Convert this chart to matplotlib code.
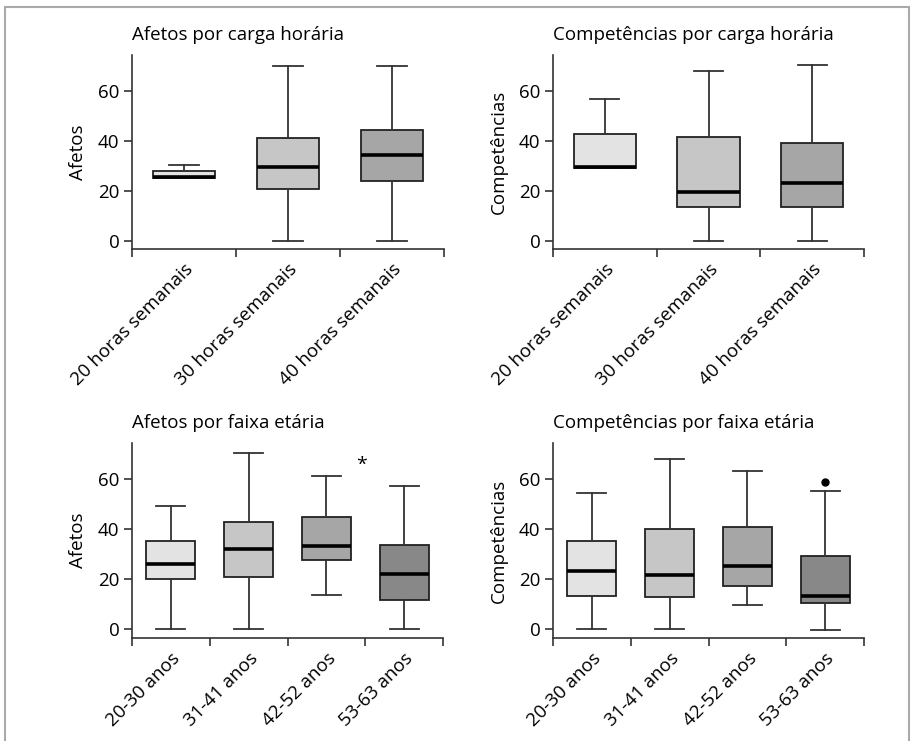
import matplotlib
matplotlib.use("Agg")
import matplotlib.pyplot as plt
from matplotlib.patches import Rectangle

plt.rcParams['font.family'] = ['Open Sans', 'DejaVu Sans']
plt.rcParams['font.size'] = 13.5

carga_labels = ["20 horas semanais", "30 horas semanais", "40 horas semanais"]
idade_labels = ["20-30 anos", "31-41 anos", "42-52 anos", "53-63 anos"]

# (whislo, q1, med, q3, whishi)
afetos_carga = [(25.0, 24.9, 25.6, 27.7, 30.4),
                (0, 20.5, 29.3, 41.1, 70.1),
                (0, 24.0, 34.4, 44.3, 70.1)]
comp_carga = [(28.9, 28.9, 29.6, 42.8, 56.8),
              (0, 13.5, 19.6, 41.4, 68.0),
              (0, 13.5, 23.0, 39.0, 70.4)]
afetos_idade = [(0, 20.3, 26.2, 35.5, 49.1),
                (0, 21.1, 32.2, 43.0, 70.3),
                (13.8, 27.8, 33.3, 44.8, 61.1),
                (0, 11.6, 22.2, 33.8, 57.3)]
comp_idade = [(0, 13.2, 23.3, 35.2, 54.3),
              (0, 13.0, 21.8, 40.0, 68.2),
              (9.9, 17.5, 25.3, 40.7, 63.1),
              (-0.3, 10.7, 13.2, 29.5, 55.2)]
comp_idade_outliers = [[], [], [], [59.0]]

colors3 = ["#e3e3e3", "#c6c6c6", "#a6a6a6"]
colors4 = ["#e3e3e3", "#c6c6c6", "#a6a6a6", "#888888"]


def draw(ax, data, labels, colors, title, ylabel, capw, boxw, fliers=None):
    stats = []
    for i, (lo, q1, med, q3, hi) in enumerate(data):
        stats.append(dict(whislo=lo, q1=q1, med=med, q3=q3, whishi=hi,
                          fliers=fliers[i] if fliers else []))
    n = len(data)
    pos = list(range(n))
    bp = ax.bxp(stats, positions=pos, widths=boxw, patch_artist=True,
                showfliers=True, capwidths=capw,
                boxprops=dict(edgecolor="#222222", linewidth=1.3),
                whiskerprops=dict(color="#333333", linewidth=1.3),
                capprops=dict(color="#333333", linewidth=1.3),
                medianprops=dict(color="black", linewidth=2.6),
                flierprops=dict(marker="o", markersize=5, markerfacecolor="black",
                                markeredgecolor="black"))
    for patch, c in zip(bp["boxes"], colors):
        patch.set_facecolor(c)
    ax.set_xlim(-0.5, n - 0.5)
    ax.set_ylim(-3.4, 74.4)
    ax.set_yticks([0, 20, 40, 60])
    ax.set_xticks([i - 0.5 for i in range(n + 1)])
    ax.set_xticklabels([])
    ax.set_xticks(pos, minor=True)
    ax.set_xticklabels(labels, minor=True, rotation=45, ha="right",
                       rotation_mode="anchor")
    ax.tick_params(axis="x", which="minor", length=0, pad=8)
    ax.tick_params(axis="x", which="major", length=6, width=1.2, color="#333333")
    ax.tick_params(axis="y", length=6, width=1.2, color="#333333", pad=3)
    for s in ["top", "right"]:
        ax.spines[s].set_visible(False)
    for s in ["left", "bottom"]:
        ax.spines[s].set_linewidth(1.2)
        ax.spines[s].set_color("#333333")
    ax.set_title(title, loc="left", fontsize=13.5, pad=11)
    ax.set_ylabel(ylabel, labelpad=8)


fig = plt.figure(figsize=(9.15, 7.41), dpi=100)
W, H = 915, 741


def axes_px(x0, x1, ytop, ybot):
    return fig.add_axes([x0 / W, 1 - ybot / H, (x1 - x0) / W, (ybot - ytop) / H])


ax1 = axes_px(132, 444, 55, 249)
ax2 = axes_px(553, 864, 55, 249)
ax3 = axes_px(132, 443, 443, 638)
ax4 = axes_px(553, 864, 443, 638)

draw(ax1, afetos_carga, carga_labels, colors3, "Afetos por carga horária", "Afetos", 0.28, 0.6)
draw(ax2, comp_carga, carga_labels, colors3, "Competências por carga horária", "Competências", 0.28, 0.6)
draw(ax3, afetos_idade, idade_labels, colors4, "Afetos por faixa etária", "Afetos", 0.37, 0.63)
draw(ax4, comp_idade, idade_labels, colors4, "Competências por faixa etária", "Competências", 0.37, 0.63,
     fliers=comp_idade_outliers)

ax3.text(2.45, 65.5, "*", ha="center", va="center", fontsize=14)

fig.patches.append(Rectangle((5 / W, -0.1), 904 / W, 1.1 - 7 / H, transform=fig.transFigure,
                             fill=False, edgecolor="#aaaaaa", linewidth=1.5))

fig.savefig("out.png", dpi=100)
